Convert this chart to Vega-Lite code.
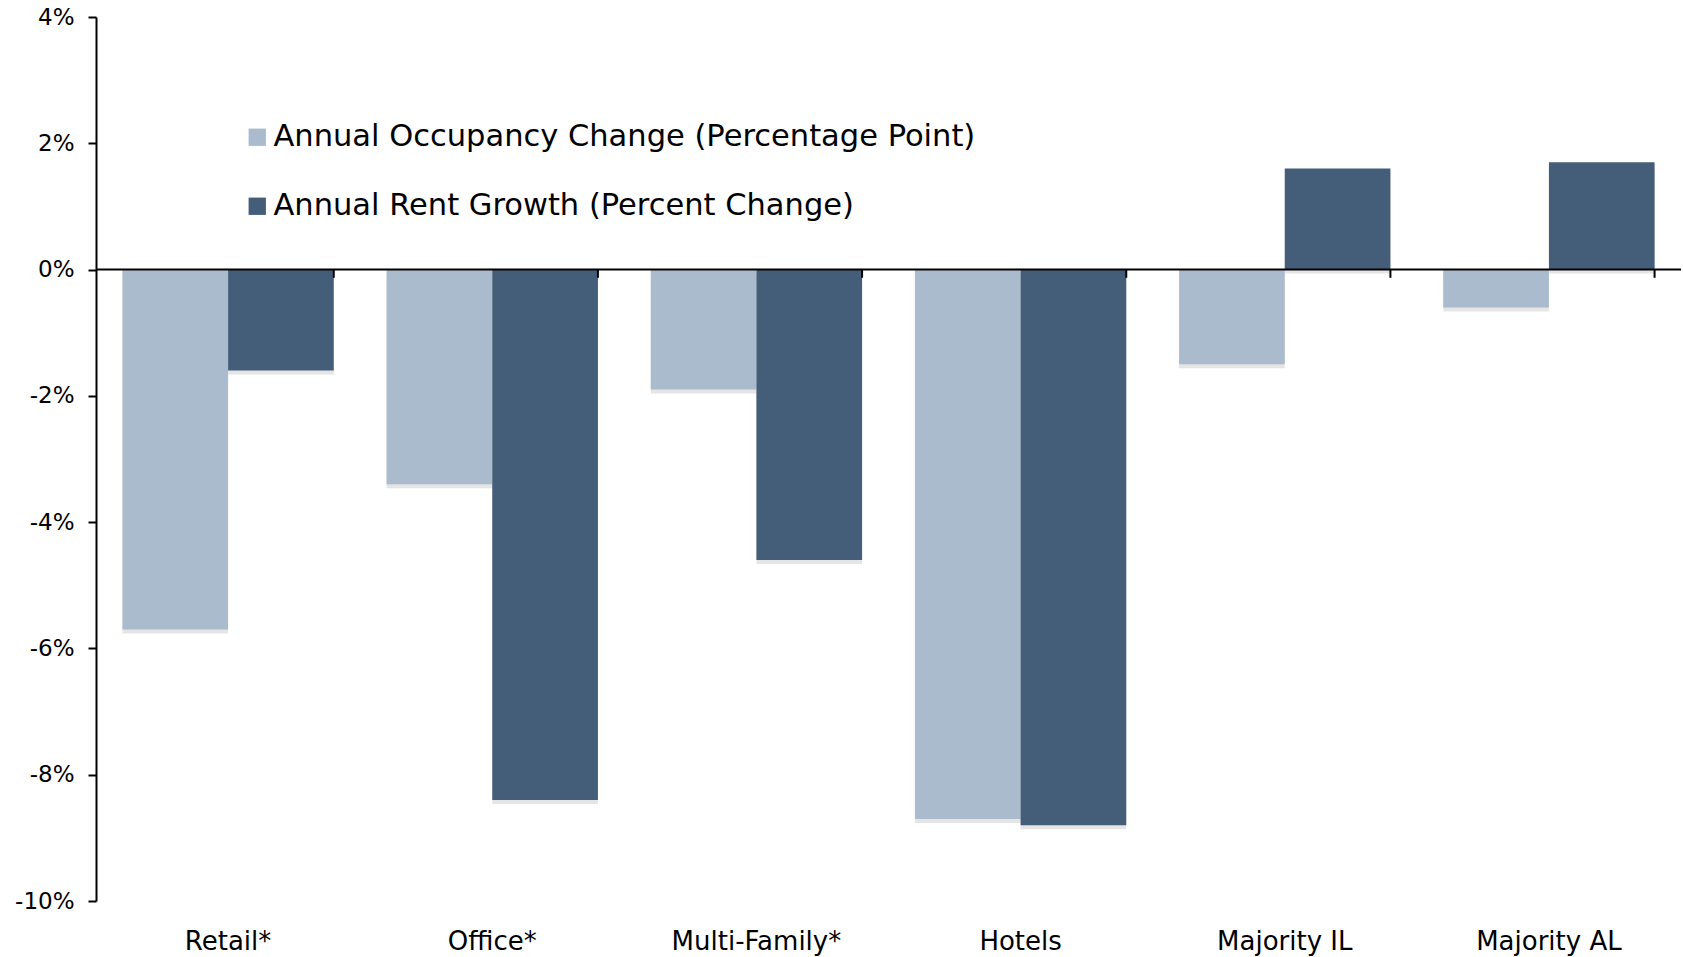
{
  "$schema": "https://vega.github.io/schema/vega-lite/v6.json",
  "autosize": {"type": "none"},
  "width": 1585,
  "height": 884,
  "padding": {"left": 96, "top": 17, "right": 2, "bottom": 56},
  "background": "white",
  "config": {"view": {"stroke": null}, "font": "DejaVu Sans"},
  "datasets": {
    "bars": [
      {"category": "Retail*", "series": "Annual Occupancy Change (Percentage Point)", "value": -5.7},
      {"category": "Retail*", "series": "Annual Rent Growth (Percent Change)", "value": -1.6},
      {"category": "Office*", "series": "Annual Occupancy Change (Percentage Point)", "value": -3.4},
      {"category": "Office*", "series": "Annual Rent Growth (Percent Change)", "value": -8.4},
      {"category": "Multi-Family*", "series": "Annual Occupancy Change (Percentage Point)", "value": -1.9},
      {"category": "Multi-Family*", "series": "Annual Rent Growth (Percent Change)", "value": -4.6},
      {"category": "Hotels", "series": "Annual Occupancy Change (Percentage Point)", "value": -8.7},
      {"category": "Hotels", "series": "Annual Rent Growth (Percent Change)", "value": -8.8},
      {"category": "Majority IL", "series": "Annual Occupancy Change (Percentage Point)", "value": -1.5},
      {"category": "Majority IL", "series": "Annual Rent Growth (Percent Change)", "value": 1.6},
      {"category": "Majority AL", "series": "Annual Occupancy Change (Percentage Point)", "value": -0.6},
      {"category": "Majority AL", "series": "Annual Rent Growth (Percent Change)", "value": 1.7}
    ],
    "cats": [
      {"category": "Retail*"},
      {"category": "Office*"},
      {"category": "Multi-Family*"},
      {"category": "Hotels"},
      {"category": "Majority IL"},
      {"category": "Majority AL"}
    ]
  },
  "layer": [
    {
      "data": {"name": "bars"},
      "mark": {"type": "bar", "color": "#000000", "opacity": 0.1, "yOffset": 4},
      "encoding": {
        "x": {"field": "category", "type": "nominal", "sort": null,
              "scale": {"paddingInner": 0.2, "paddingOuter": 0.1},
              "axis": {"title": null, "labelAngle": 0, "domain": false, "ticks": false, "labelFontSize": 26, "labelColor": "#000000", "labelPadding": 27, "labelFont": "DejaVu Sans"}},
        "xOffset": {"field": "series", "type": "nominal", "sort": null, "scale": {"paddingInner": 0, "paddingOuter": 0}},
        "y": {"field": "value", "type": "quantitative",
              "scale": {"domain": [-10, 4], "nice": false, "zero": false},
              "axis": {"title": null, "values": [-10, -8, -6, -4, -2, 0, 2, 4], "labelExpr": "datum.value + '%'", "grid": false,
                       "domainColor": "#000000", "domainWidth": 2, "tickColor": "#000000", "tickWidth": 2, "tickSize": 8,
                       "labelFontSize": 23, "labelColor": "#000000", "labelPadding": 14, "labelFont": "DejaVu Sans"}}
      }
    },
    {
      "data": {"name": "bars"},
      "mark": {"type": "bar"},
      "encoding": {
        "x": {"field": "category", "type": "nominal", "sort": null},
        "xOffset": {"field": "series", "type": "nominal", "sort": null},
        "y": {"field": "value", "type": "quantitative"},
        "color": {"field": "series", "type": "nominal", "sort": null,
                  "scale": {"domain": ["Annual Occupancy Change (Percentage Point)", "Annual Rent Growth (Percent Change)"], "range": ["#ABBBCE", "#445E7A"]},
                  "legend": {"title": null, "orient": "none", "legendX": 146, "legendY": 105, "symbolType": "square", "symbolSize": 300,
                             "symbolStrokeWidth": 0, "labelFontSize": 30.5, "labelColor": "#000000", "labelLimit": 1000, "rowPadding": 38,
                             "labelOffset": 1, "labelFont": "DejaVu Sans"}}
      }
    },
    {
      "data": {"values": [{"v": 0}]},
      "mark": {"type": "rule", "color": "#000000", "strokeWidth": 2},
      "encoding": {"y": {"field": "v", "type": "quantitative"}}
    },
    {
      "data": {"name": "cats"},
      "mark": {"type": "rule", "color": "#000000", "strokeWidth": 2},
      "encoding": {
        "x": {"field": "category", "type": "nominal", "sort": null, "bandPosition": 1},
        "y": {"datum": 0, "type": "quantitative"},
        "y2": {"datum": -0.13}
      }
    }
  ]
}
